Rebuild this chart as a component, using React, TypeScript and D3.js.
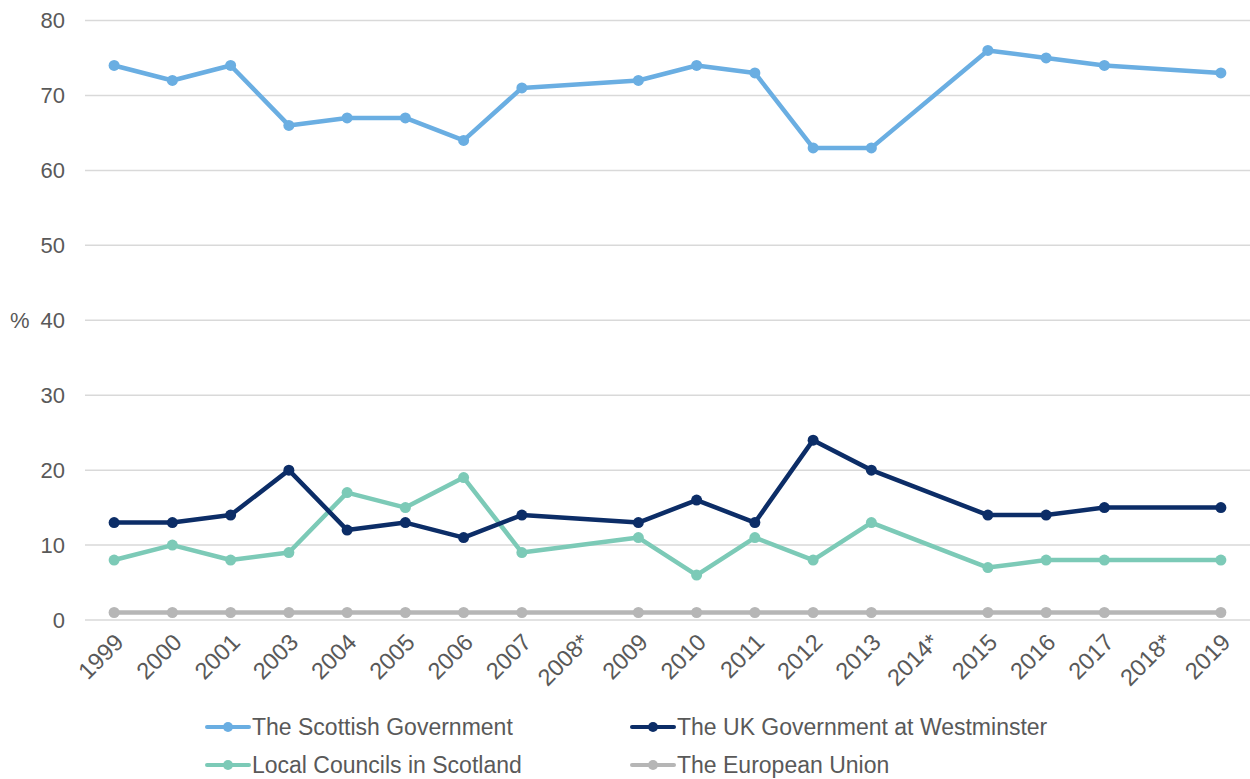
import React from "react";
import * as d3 from "d3";

const categories = ["1999","2000","2001","2003","2004","2005","2006","2007","2008*","2009","2010","2011","2012","2013","2014*","2015","2016","2017","2018*","2019"];
const scottishGov = [74,72,74,66,67,67,64,71,null,72,74,73,63,63,null,76,75,74,null,73];
const ukGov = [13,13,14,20,12,13,11,14,null,13,16,13,24,20,null,14,14,15,null,15];
const localCouncils = [8,10,8,9,17,15,19,9,null,11,6,11,8,13,null,7,8,8,null,8];
const europeanUnion = [1,1,1,1,1,1,1,1,null,1,1,1,1,1,null,1,1,1,null,1];
const yTicks = [0,10,20,30,40,50,60,70,80];

const seriesList = [
  { name: "The Scottish Government", values: scottishGov, color: "#6aaee2" },
  { name: "The UK Government at Westminster", values: ukGov, color: "#0c2d67" },
  { name: "Local Councils in Scotland", values: localCouncils, color: "#7ccab7" },
  { name: "The European Union", values: europeanUnion, color: "#b6b6b6" },
];
const drawOrder = [3, 2, 1, 0];

export default function App() {
  const W = 1250, H = 779;
  const x = d3.scaleBand<string>().domain(categories).range([85, 1250]);
  const y = d3.scaleLinear().domain([0, 80]).range([620, 20.5]);
  const cx = (c: string) => (x(c) as number) + x.bandwidth() / 2;
  const font = "Arial, 'Liberation Sans', sans-serif";

  const line = d3.line<{ c: string; v: number }>().x(d => cx(d.c)).y(d => y(d.v));

  const legendPos = [
    { x: 207, y: 727 },
    { x: 632, y: 727 },
    { x: 207, y: 765 },
    { x: 632, y: 765 },
  ];

  return (
    <svg width={W} height={H} style={{ position: "absolute", left: 0, top: 0 }} fontFamily={font}>
      {yTicks.map(t => (
        <g key={t}>
          <line x1={85} x2={1250} y1={y(t)} y2={y(t)} stroke="#d9d9d9" strokeWidth={1.5} />
          <text x={65} y={y(t)} dy="0.35em" textAnchor="end" fontSize={22} fill="#595959">{t}</text>
        </g>
      ))}
      <text x={10} y={y(40)} dy="0.35em" fontSize={22} fill="#595959">%</text>
      {categories.map(c => (
        <text key={c} transform={`translate(${cx(c) + 5},${638}) rotate(-45)`} textAnchor="end" dy="0.35em" fontSize={23.5} fill="#595959">{c}</text>
      ))}
      {drawOrder.map(i => {
        const s = seriesList[i];
        const pts = categories.map((c, j) => ({ c, v: s.values[j] })).filter(d => d.v !== null) as { c: string; v: number }[];
        return (
          <g key={s.name}>
            <path d={line(pts) || ""} fill="none" stroke={s.color} strokeWidth={4.5} strokeLinejoin="round" strokeLinecap="round" />
            {pts.map(p => (
              <circle key={p.c} cx={cx(p.c)} cy={y(p.v)} r={5.5} fill={s.color} />
            ))}
          </g>
        );
      })}
      {seriesList.map((s, i) => {
        const p = legendPos[i];
        return (
          <g key={s.name}>
            <line x1={p.x} x2={p.x + 42} y1={p.y} y2={p.y} stroke={s.color} strokeWidth={4} strokeLinecap="round" />
            <circle cx={p.x + 21} cy={p.y} r={5} fill={s.color} />
            <text x={p.x + 45} y={p.y} dy="0.35em" fontSize={23} fill="#595959">{s.name}</text>
          </g>
        );
      })}
    </svg>
  );
}
